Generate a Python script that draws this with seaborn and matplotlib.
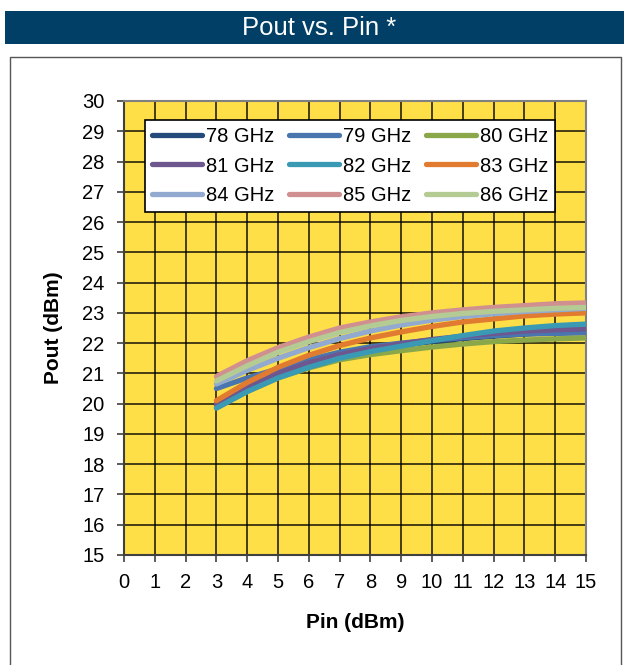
import numpy as np
import pandas as pd
import matplotlib
matplotlib.use("Agg")
import matplotlib.pyplot as plt
from matplotlib.patches import Rectangle
from matplotlib.lines import Line2D
import seaborn as sns

# Input drive levels (dBm)
pin = [3, 4, 5, 6, 7, 8, 9, 10, 11, 12, 13, 14, 15]

# Output power (dBm) per frequency
pout_78 = [19.95, 20.50, 20.95, 21.30, 21.58, 21.78, 21.93, 22.05, 22.15, 22.23, 22.30, 22.36, 22.40]
pout_79 = [20.50, 20.85, 21.15, 21.45, 21.70, 21.88, 22.00, 22.10, 22.18, 22.25, 22.30, 22.32, 22.34]
pout_80 = [19.88, 20.40, 20.85, 21.18, 21.45, 21.62, 21.75, 21.87, 21.97, 22.05, 22.10, 22.14, 22.17]
pout_81 = [20.00, 20.55, 21.00, 21.35, 21.62, 21.82, 21.98, 22.12, 22.23, 22.32, 22.40, 22.44, 22.47]
pout_82 = [19.85, 20.40, 20.85, 21.20, 21.50, 21.72, 21.90, 22.08, 22.25, 22.40, 22.50, 22.58, 22.63]
pout_83 = [20.10, 20.70, 21.20, 21.60, 21.92, 22.17, 22.37, 22.55, 22.70, 22.80, 22.90, 22.96, 23.00]
pout_84 = [20.65, 21.10, 21.50, 21.85, 22.15, 22.40, 22.60, 22.76, 22.88, 22.97, 23.05, 23.10, 23.15]
pout_85 = [20.90, 21.42, 21.85, 22.20, 22.50, 22.70, 22.87, 23.00, 23.10, 23.18, 23.24, 23.30, 23.33]
pout_86 = [20.75, 21.25, 21.70, 22.05, 22.35, 22.57, 22.75, 22.88, 22.98, 23.05, 23.10, 23.15, 23.18]

freq_labels = ["78 GHz", "79 GHz", "80 GHz", "81 GHz", "82 GHz",
               "83 GHz", "84 GHz", "85 GHz", "86 GHz"]
series = [pout_78, pout_79, pout_80, pout_81, pout_82,
          pout_83, pout_84, pout_85, pout_86]
colors = ["#244A7C", "#4A76B0", "#8AA84A", "#6E568F", "#3A9AB3",
          "#E07B30", "#92A9D0", "#D09090", "#B5CB94"]

x_ticks = list(range(0, 16))
y_ticks = list(range(15, 31))

df = pd.DataFrame({
    "Pin": np.tile(pin, len(series)),
    "Pout": np.concatenate(series),
    "Freq": np.repeat(freq_labels, len(pin)),
})

sns.set_theme(style="white")
plt.rcParams["font.family"] = ["Liberation Sans", "DejaVu Sans"]
plt.rcParams["text.color"] = "black"
plt.rcParams["axes.labelcolor"] = "black"

fig = plt.figure(figsize=(6.24, 6.65), dpi=100)
W, H = 624, 665

# Title banner
fig.patches.append(Rectangle((5 / W, 1 - 44 / H), 619 / W, 33 / H,
                             transform=fig.transFigure, facecolor="#013F66",
                             edgecolor="none", zorder=0))
fig.text(319 / W, 1 - 28 / H, "Pout vs. Pin *", color="white",
         fontsize=18.5, ha="center", va="center")

# Chart frame
fig.patches.append(Rectangle((10 / W, -0.01), 611 / W, 1 - 57 / H + 0.01,
                             transform=fig.transFigure, facecolor="none",
                             edgecolor="#555555", linewidth=1.0, zorder=0))

ax = fig.add_axes([124 / W, 1 - 555 / H, 462 / W, 454 / H])
ax.set_zorder(2)
ax.set_facecolor("#FFDF47")

sns.lineplot(data=df, x="Pin", y="Pout", hue="Freq", hue_order=freq_labels,
             palette=dict(zip(freq_labels, colors)), linewidth=3.8,
             legend=False, ax=ax, zorder=3)
for ln in ax.lines:
    ln.set_solid_capstyle("round")
    ln.set_solid_joinstyle("round")

ax.set_xlim(0, 15)
ax.set_ylim(15, 30)
ax.set_xticks(x_ticks)
ax.set_yticks(y_ticks)
ax.set_xticklabels([str(v) for v in x_ticks])
ax.set_yticklabels([str(v) for v in y_ticks])
ax.grid(True, color="black", linewidth=1.2, alpha=0.85, zorder=1)
ax.set_axisbelow(True)
for side in ["left", "right", "top", "bottom"]:
    ax.spines[side].set_color("#808080")
    ax.spines[side].set_linewidth(1.5)
ax.spines["left"].set_color("#404040")
ax.spines["bottom"].set_color("#404040")
ax.tick_params(axis="both", which="major", direction="out", length=5,
               width=1.2, color="#404040", labelsize=14.5, labelcolor="black",
               left=True, bottom=True)
ax.tick_params(axis="x", pad=8)
ax.tick_params(axis="y", pad=9)

ax.set_xlabel("Pin (dBm)", fontsize=15, fontweight="bold", labelpad=15)
ax.set_ylabel("Pout (dBm)", fontsize=15, fontweight="bold", labelpad=14)

# Legend laid out row by row: 78/79/80, 81/82/83, 84/85/86
order = [0, 3, 6, 1, 4, 7, 2, 5, 8]
handles = [Line2D([], [], color=colors[i], linewidth=3.8,
                  solid_capstyle="round") for i in order]
labels = [freq_labels[i] for i in order]
leg = ax.legend(handles, labels, ncol=3, loc="upper left",
                bbox_to_anchor=(21 / 462, 1 - 19 / 454), fontsize=14.5,
                frameon=True, fancybox=False, shadow=False, framealpha=1,
                edgecolor="black", handlelength=2.5, handletextpad=0.2,
                columnspacing=0.7, labelspacing=0.52, borderpad=0.35,
                borderaxespad=0)
leg.get_frame().set_linewidth(1.2)
leg.set_zorder(5)

fig.savefig("out.png", dpi=100)
